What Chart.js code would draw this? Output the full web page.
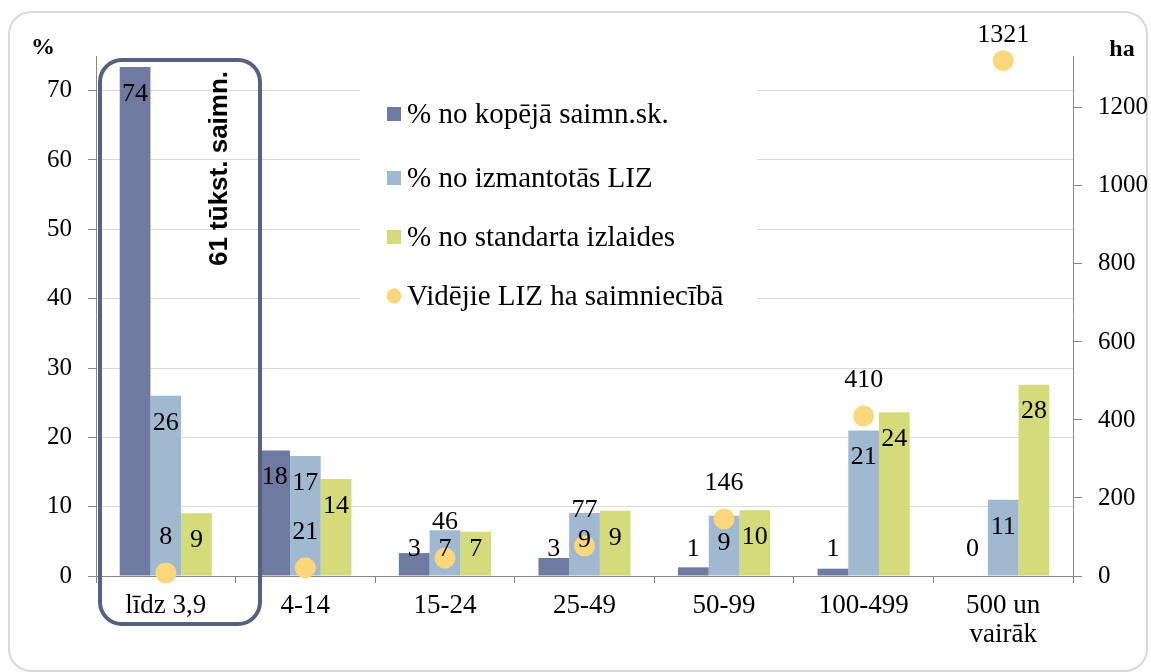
<!DOCTYPE html>
<html>
<head>
<meta charset="utf-8">
<script src="https://cdn.jsdelivr.net/npm/chart.js@4.4.1/dist/chart.umd.min.js"></script>
<style>
  html, body { margin: 0; padding: 0; background: #fff; }
  #wrap { width: 1151px; height: 672px; position: relative; }
</style>
</head>
<body>
<div id="wrap"><canvas id="c" width="1151" height="672"></canvas></div>
<script>
// ---- data ----
const categories = ['līdz 3,9', '4-14', '15-24', '25-49', '50-99', '100-499', ['500 un', 'vairāk']];
const shareHoldings = [73.4, 18.1, 3.3, 2.6, 1.25, 1.05, 0];       // % no kopējā saimn.sk.
const shareHoldingsLabels = [74, 18, 3, 3, 1, 1, 0];
const shareUAA = [26.0, 17.3, 6.6, 9.1, 8.7, 21.0, 11.0];           // % no izmantotās LIZ
const shareUAALabels = [26, 17, 7, 9, 9, 21, 11];
const shareOutput = [9.05, 14.0, 6.4, 9.4, 9.5, 23.6, 27.6];        // % no standarta izlaides
const shareOutputLabels = [9, 14, 7, 9, 10, 24, 28];
const avgUAA = [8, 21, 46, 77, 146, 410, 1321];                     // Vidējie LIZ ha saimniecībā
const leftTicks = [0, 10, 20, 30, 40, 50, 60, 70];
const rightTicks = [0, 200, 400, 600, 800, 1000, 1200];
const seriesNames = ['% no kopējā saimn.sk.', '% no izmantotās LIZ', '% no standarta izlaides', 'Vidējie LIZ ha saimniecībā'];
const boxText = '61 tūkst. saimn.';

const COLORS = ['#6f7aa1', '#a1b9d0', '#d4db7a', '#fad77b'];
const SERIF = "'Liberation Serif', 'Times New Roman', serif";

Chart.defaults.font.family = SERIF;
Chart.defaults.font.size = 25;
Chart.defaults.color = '#000';

const decorPlugin = {
  id: 'decor',
  beforeDraw(chart) {
    const ctx = chart.ctx;
    ctx.save();
    ctx.fillStyle = '#fff';
    ctx.fillRect(0, 0, chart.width, chart.height);
    ctx.strokeStyle = '#d9d9d9';
    ctx.lineWidth = 2;
    ctx.beginPath();
    ctx.roundRect(9, 12, 1138, 659, 22);
    ctx.stroke();
    ctx.restore();
  },
  afterDraw(chart) {
    const ctx = chart.ctx;
    const yL = chart.scales.y;
    ctx.save();
    // bar labels
    ctx.font = '26px ' + SERIF;
    ctx.fillStyle = '#000';
    ctx.textAlign = 'center';
    ctx.textBaseline = 'middle';
    const labelSets = [shareHoldingsLabels, shareUAALabels, shareOutputLabels];
    const base = yL.getPixelForValue(0);
    for (let d = 0; d < 3; d++) {
      const meta = chart.getDatasetMeta(d);
      meta.data.forEach((bar, i) => {
        const y = Math.min(bar.y + 27, base - 27);
        ctx.fillText(String(labelSets[d][i]), bar.x, y);
      });
    }
    // point labels
    const pm = chart.getDatasetMeta(3);
    pm.data.forEach((pt, i) => {
      ctx.fillText(String(avgUAA[i]), pt.x, Math.max(pt.y - 36, 35));
    });
    // axis titles
    ctx.font = 'bold 24px ' + SERIF;
    ctx.fillText('%', 43, 48);
    ctx.fillText('ha', 1122, 50);

    // legend box
    ctx.fillStyle = '#fff';
    ctx.fillRect(360, 78, 397, 244);
    const ly = [114, 178, 237, 296];
    ctx.font = '29px ' + SERIF;
    ctx.textAlign = 'left';
    for (let k = 0; k < 4; k++) {
      ctx.fillStyle = COLORS[k];
      if (k < 3) {
        ctx.fillRect(387, ly[k] - 7, 14, 14);
      } else {
        ctx.beginPath();
        ctx.arc(394, ly[k], 7.5, 0, Math.PI * 2);
        ctx.fill();
      }
      ctx.fillStyle = '#000';
      ctx.fillText(seriesNames[k], 407, ly[k] + 1);
    }

    // highlight box around first category
    ctx.strokeStyle = '#56617f';
    ctx.lineWidth = 4;
    ctx.beginPath();
    ctx.roundRect(100, 60, 160, 564, 22);
    ctx.stroke();
    ctx.save();
    ctx.translate(227, 168.5);
    ctx.rotate(-Math.PI / 2);
    ctx.fillStyle = '#000';
    ctx.font = "bold 26px 'Liberation Sans', Arial, sans-serif";
    ctx.textAlign = 'center';
    ctx.textBaseline = 'alphabetic';
    ctx.fillText(boxText, 0, 0);
    ctx.restore();
    ctx.restore();
  }
};

new Chart(document.getElementById('c'), {
  type: 'bar',
  data: {
    labels: categories,
    datasets: [
      { label: seriesNames[0], data: shareHoldings, backgroundColor: COLORS[0], yAxisID: 'y', order: 2 },
      { label: seriesNames[1], data: shareUAA, backgroundColor: COLORS[1], yAxisID: 'y', order: 2 },
      { label: seriesNames[2], data: shareOutput, backgroundColor: COLORS[2], yAxisID: 'y', order: 2 },
      { type: 'line', label: seriesNames[3], data: avgUAA, yAxisID: 'y2', showLine: false, clip: false,
        pointRadius: 10.5, pointBackgroundColor: COLORS[3], pointBorderWidth: 0, borderColor: COLORS[3], order: 0 }
    ]
  },
  options: {
    responsive: false,
    animation: false,
    devicePixelRatio: 1,
    layout: { padding: { top: 56, left: 0, right: 0, bottom: 0 } },
    datasets: { bar: { categoryPercentage: 0.66, barPercentage: 1.0 } },
    plugins: { legend: { display: false }, tooltip: { enabled: false } },
    scales: {
      x: {
        grid: { drawOnChartArea: false, offset: true, tickLength: 7, tickColor: '#868686' },
        border: { color: '#868686', width: 1 },
        ticks: { padding: 8, maxRotation: 0, autoSkip: false, font: { size: 27, lineHeight: 1.08 } },
        afterFit(s) { s.height = 96; }
      },
      y: {
        position: 'left',
        min: 0, max: 75,
        afterBuildTicks(s) { s.ticks = leftTicks.map(v => ({ value: v })); },
        grid: { color: '#d9d9d9', tickLength: 8, tickColor: '#868686' },
        border: { color: '#868686', width: 1 },
        ticks: { padding: 16, callback: v => String(v) },
        afterFit(s) { s.width = 96; }
      },
      y2: {
        position: 'right',
        min: 0, max: 1333,
        afterBuildTicks(s) { s.ticks = rightTicks.map(v => ({ value: v })); },
        grid: { drawOnChartArea: false, tickLength: 9, tickColor: '#868686' },
        border: { color: '#868686', width: 1 },
        ticks: { padding: 16, callback: v => String(v) },
        afterFit(s) { s.width = 78; }
      }
    }
  },
  plugins: [decorPlugin]
});
</script>
</body>
</html>
